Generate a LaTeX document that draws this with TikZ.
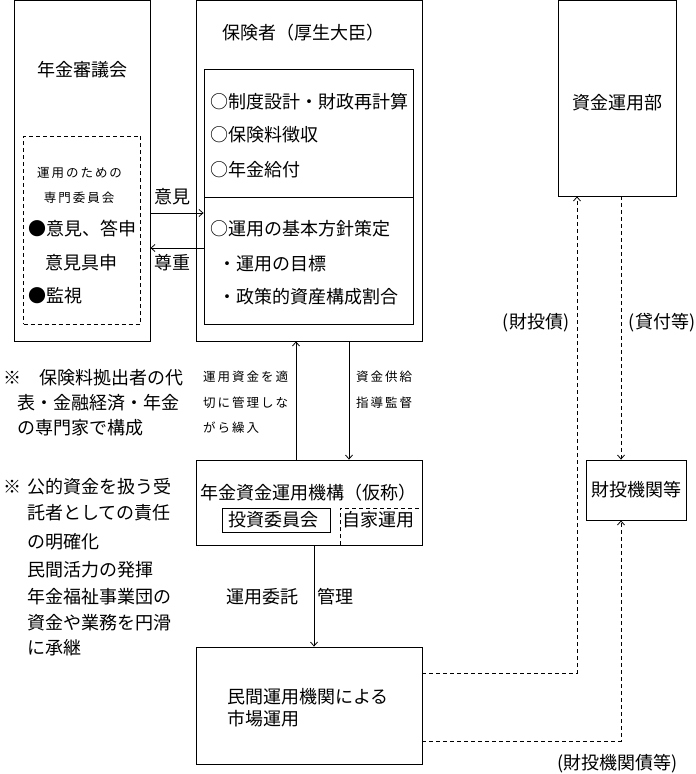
\documentclass[tikz,border=0pt]{standalone}
\usepackage{fontspec}
\setmainfont{Noto Sans CJK JP}
\newfontfamily\jpsmall{Noto Sans CJK JP}[LetterSpace=16]
\usetikzlibrary{arrows.meta}
\tikzset{
  box/.style={draw, line width=0.8pt, inner sep=0pt},
  dsh/.style={dash pattern=on 4pt off 3pt, line width=0.8pt},
  arr/.style={-{Straight Barb[length=4pt,width=7pt]}, line width=0.8pt},
  txt/.style={font=\fontsize{18}{20}\selectfont, inner sep=0pt},
  sm/.style={font=\jpsmall\fontsize{12.5}{14}\selectfont, inner sep=0pt}
}
\begin{document}
\begin{tikzpicture}[x=1pt,y=-1pt]
\useasboundingbox (0,0) rectangle (696,774);
% boxes
\node[box, minimum width=135.5pt, minimum height=340.5pt] (shingikai) at (82.25,170.75) {};
\node[box, dsh, minimum width=117pt, minimum height=188pt] (senmon) at (82,230) {};
\node[box, minimum width=226pt, minimum height=340.5pt] (hokensha) at (309,170.75) {};
\node[box, minimum width=209pt, minimum height=255pt] (inner) at (308.5,196.5) {};
\coordinate (divL) at (204,197);
\coordinate (divR) at (413,197);
\draw[line width=0.8pt] (divL) -- (divR);
\node[box, minimum width=118pt, minimum height=195.5pt] (unyobu) at (617,98.25) {};
\node[box, minimum width=226pt, minimum height=85pt] (kikou) at (309,502.5) {};
\node[box, minimum width=108pt, minimum height=24pt] (toushi) at (276,520) {};
\node[box, minimum width=226pt, minimum height=117pt] (minkan) at (309,705.5) {};
\node[box, minimum width=100pt, minimum height=60pt] (zaitou) at (636,490) {};
% jika unyo dashed
\coordinate (jk1) at (340.5,508);
\draw[dsh] (kikou.south -| jk1) -- (jk1) -- (kikou.east |- jk1);

% texts
\node[txt] (t1) at (82,70) {年金審議会};
\node[sm] (t2) at (79.5,173) {運用のための};
\node[sm] (t3) at (79,198) {専門委員会};
\node[txt, anchor=west] (t4) at (28,229) {●意見、答申};
\node[txt] (t5) at (81.5,263) {意見具申};
\node[txt, anchor=west] (t6) at (28,296) {●監視};

\node[txt] (h0) at (303.5,33) {保険者（厚生大臣）};
\node[txt, anchor=west] (h1) at (210.5,102) {○制度設計・財政再計算};
\node[txt, anchor=west] (h2) at (210.5,135) {○保険料徴収};
\node[txt, anchor=west] (h3) at (210.5,170) {○年金給付};
\node[txt, anchor=west] (h4) at (210.5,229) {○運用の基本方針策定};
\node[txt, anchor=west] (h5) at (218,264) {・運用の目標};
\node[txt, anchor=west] (h6) at (218,297) {・政策的資産構成割合};

\node[txt] (u1) at (617,103) {資金運用部};

\node[txt] (l1) at (172,197) {意見};
\node[txt] (l2) at (172,263) {尊重};

\node[sm, anchor=west] (s1) at (203,377) {運用資金を適};
\node[sm, anchor=west] (s2) at (203,403) {切に管理しな};
\node[sm, anchor=west] (s3) at (203,428) {がら繰入};
\node[sm, anchor=west] (s4) at (356,377) {資金供給};
\node[sm, anchor=west] (s5) at (356,403) {指導監督};

\node[txt, anchor=west] (k1) at (200,493) {年金資金運用機構（仮称）};
\node[txt] (k2) at (273,520) {投資委員会};
\node[txt] (k3) at (378,520) {自家運用};

\node[txt] (m1) at (262.5,597) {運用委託};
\node[txt] (m2) at (335,597) {管理};

\node[txt, anchor=west] (p1) at (227,697) {民間運用機関による};
\node[txt, anchor=west] (p2) at (227,719) {市場運用};

\node[txt] (z1) at (636,490) {財投機関等};
\node[txt] (r1) at (536,323) {(財投債)};
\node[txt] (r2) at (662,323) {(貸付等)};
\node[txt] (r3) at (617.5,764) {(財投機関債等)};

% notes
\node[txt, anchor=west] (n1) at (3,378) {※　保険料拠出者の代};
\node[txt, anchor=west] (n2) at (17,403) {表・金融経済・年金};
\node[txt, anchor=west] (n3) at (17,428) {の専門家で構成};
\node[txt, anchor=west] (n4) at (3,487) {※};
\node[txt, anchor=west] (n5) at (27,487) {公的資金を扱う受};
\node[txt, anchor=west] (n6) at (27,513) {託者としての責任};
\node[txt, anchor=west] (n7) at (27,542) {の明確化};
\node[txt, anchor=west] (n8) at (27,570) {民間活力の発揮};
\node[txt, anchor=west] (n9) at (27,597) {年金福祉事業団の};
\node[txt, anchor=west] (n10) at (27,623) {資金や業務を円滑};
\node[txt, anchor=west] (n11) at (27,648) {に承継};

% connectors
\coordinate (yA) at (0,213);
\coordinate (yB) at (0,248);
\draw[arr] (shingikai.east |- yA) -- (inner.west |- yA);
\draw[arr] (inner.west |- yB) -- (shingikai.east |- yB);
\coordinate (xA) at (296,0);
\coordinate (xB) at (349,0);
\coordinate (xC) at (314,0);
\draw[arr] (kikou.north -| xA) -- (hokensha.south -| xA);
\draw[arr] (hokensha.south -| xB) -- (kikou.north -| xB);
\draw[arr] (kikou.south -| xC) -- (minkan.north -| xC);
\coordinate (xD) at (577,0);
\coordinate (xE) at (621,0);
\coordinate (yC) at (0,673);
\coordinate (yD) at (0,741);
\draw[dsh, arr] (minkan.east |- yC) -| (unyobu.south -| xD);
\draw[dsh, arr] (unyobu.south -| xE) -- (zaitou.north -| xE);
\draw[dsh, arr] (minkan.east |- yD) -| (zaitou.south -| xE);
\end{tikzpicture}
\end{document}
